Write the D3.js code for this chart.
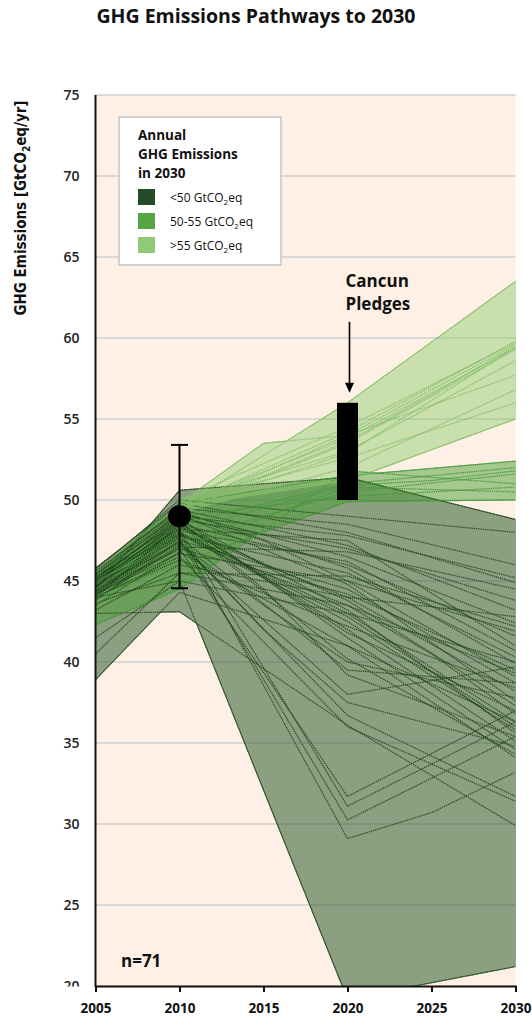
<!DOCTYPE html>
<html>
<head>
<meta charset="utf-8">
<script src="https://cdn.jsdelivr.net/npm/d3@7/dist/d3.min.js"></script>
<style>
  html, body { margin: 0; padding: 0; background: #ffffff; }
  svg { display: block; font-family: "Open Sans", "Noto Sans", sans-serif; }
</style>
</head>
<body>
<svg id="chart" width="532" height="1019"></svg>
<script>
// Reporting years of the scenario pathways (null = not reported by that model)
const years = [2005, 2010, 2015, 2020, 2025, 2030];

// Pathways whose 2030 emissions are below 50 GtCO2eq
const darkPaths = [
  [44.5, 50.6, null, 51.4, null, 48.8],
  [38.9, 44.3, null, 41.0, null, 36.3],
  [44.0, 45.0, null, 19.2, null, 21.2],
  [43.0, 43.1, null, 36.1, null, 29.9],
  [45.0, 48.0, null, 29.1, 30.7, 33.2],
  [44.8, 47.6, null, 30.25, null, 35.4],
  [45.3, 48.2, null, 31.1, null, 36.3],
  [44.2, 47.0, null, 31.7, null, 37.0],
  [45.5, 49.5, null, 48.5, null, 46.0],
  [45.0, 49.0, null, 47.8, null, 45.2],
  [44.6, 48.8, null, 47.0, null, 43.8],
  [45.2, 49.2, null, 46.5, null, 42.4],
  [44.0, 48.5, null, 46.0, null, 41.6],
  [45.8, 49.8, null, 48.0, null, 44.9],
  [44.3, 47.8, null, 45.5, null, 40.3],
  [43.8, 47.5, null, 44.5, null, 38.7],
  [45.0, 48.4, null, 43.8, null, 37.3],
  [44.7, 48.0, null, 43.0, null, 36.3],
  [44.4, 47.9, null, 42.5, null, 35.8],
  [44.9, 48.6, null, 42.0, null, 35.1],
  [45.1, 48.9, null, 41.5, null, 34.6],
  [43.5, 46.8, null, 41.0, null, 34.1],
  [44.1, 47.2, null, 38.0, null, 39.7],
  [44.6, 47.4, null, 36.7, null, 31.7],
  [44.0, 46.5, null, 36.0, null, 31.4],
  [45.4, 49.0, 47.5, 45.0, 42.0, 39.1],
  [44.8, 48.3, 46.0, 44.0, null, 38.2],
  [45.6, 49.4, null, 47.2, null, 43.2],
  [43.2, 46.0, null, 44.0, null, 42.8],
  [44.2, 46.7, null, 45.0, null, 41.9],
  [45.0, 48.1, null, 46.2, null, 40.7],
  [43.6, 45.5, null, 43.5, null, 39.3],
  [44.5, 47.3, 43.5, 40.0, null, 37.8],
  [45.2, 48.7, 44.5, 39.2, null, 35.4],
  [44.9, 48.5, null, 40.2, null, 34.3],
  [44.3, 47.7, null, 39.5, null, 38.7],
  [40.5, 45.5, null, 45.3, null, 42.2],
  [45.7, 50.0, null, 49.0, null, 48.0],
  [44.0, 46.3, null, 42.2, null, 38.4],
  [45.3, 49.1, null, 44.8, null, 37.6],
  [44.7, 48.0, 45.5, 43.5, 40.5, 36.8],
  [43.9, 47.1, null, 46.8, null, 44.5],
  [45.1, 48.8, null, 43.2, null, 35.6],
  [44.6, 47.9, null, 42.8, null, 36.0],
  [45.4, 49.3, null, 45.8, null, 39.9],
  [44.2, 47.5, 42.0, 37.5, null, 34.8],
  [45.0, 48.2, null, 47.5, null, 41.0],
  [44.8, 48.6, null, 41.8, null, 37.0],
  [41.5, 45.0, null, 43.0, null, 40.0],
  [44.4, 47.0, null, 44.2, null, 39.5]
];

// Pathways with 50-55 GtCO2eq in 2030
const midPaths = [
  [45.5, 49.8, null, 51.5, null, 52.4],
  [44.8, 48.5, null, 51.0, null, 52.0],
  [42.3, 44.5, null, 51.8, null, 51.0],
  [44.0, 46.1, null, 49.9, null, 50.0],
  [45.0, 47.5, null, 50.5, null, 51.6],
  [43.5, 47.0, null, 50.8, null, 50.5],
  [44.5, 48.0, 49.5, 50.9, 51.2, 51.8],
  [45.3, 49.0, null, 50.2, null, 50.8]
];

// Pathways above 55 GtCO2eq in 2030
const lightPaths = [
  [null, 49.8, 53.5, 54.0, null, 57.7],
  [null, 49.5, null, 56.0, null, 63.5],
  [null, 49.6, null, 54.2, null, 59.8],
  [null, 49.4, null, 54.0, null, 59.6],
  [null, 49.7, null, 53.8, null, 59.4],
  [null, 49.3, null, 53.5, null, 59.3],
  [null, 49.9, null, 53.0, null, 58.6],
  [null, 49.5, 51.5, 53.6, 56.5, 59.5],
  [null, 49.2, null, 52.0, null, 56.8],
  [null, 49.6, null, 51.2, null, 55.0],
  [null, 49.8, null, 52.6, null, 56.0],
  [null, 49.4, null, 52.9, null, 59.4],
  [null, 50.0, null, 54.5, null, 59.7]
];

// 2010 emissions estimate with its uncertainty range
const estimate2010 = [2010, 49.0, 44.55, 53.4];   // year, central, low, high
// Cancun pledges range for 2020
const pledges2020 = [2020, 50.0, 56.0];           // year, low, high

const xTicks = [2005, 2010, 2015, 2020, 2025, 2030];
const yTicks = [20, 25, 30, 35, 40, 45, 50, 55, 60, 65, 70, 75];
const legendLabels = ["<50 GtCO", "50-55 GtCO", ">55 GtCO"];
const pathwayCount = 71;

const groups = [
  { paths: darkPaths,  fill: "#2f5d2f", fillOpacity: 0.55, edge: "#30592b", line: "#1f461c", lineOpacity: 0.9,  swatch: "#234b29" },
  { paths: midPaths,   fill: "#4ba037", fillOpacity: 0.5,  edge: "#52a241", line: "#46963a", lineOpacity: 0.95, swatch: "#55a546" },
  { paths: lightPaths, fill: "#96cd78", fillOpacity: 0.5,  edge: "#88c26e", line: "#80bb64", lineOpacity: 0.9,  swatch: "#8fc97a" }
];

const svg = d3.select("#chart");
const x = d3.scaleLinear().domain([2005, 2030]).range([95.5, 515.5]);
const y = d3.scaleLinear().domain([20, 75]).range([986, 95]);

const defs = svg.append("defs");
defs.append("clipPath").attr("id", "plotClip")
  .append("rect")
  .attr("x", x(2005)).attr("y", y(75))
  .attr("width", x(2030) - x(2005)).attr("height", y(20) - y(75));
// tick labels are cut at the x axis line
defs.append("clipPath").attr("id", "labelClip")
  .append("rect").attr("x", -95).attr("y", 0).attr("width", 95).attr("height", y(20) + 0.5);

// Title
svg.append("text")
  .attr("x", 256).attr("y", 23)
  .attr("text-anchor", "middle")
  .attr("font-weight", 700).attr("font-size", 19.5)
  .attr("fill", "#111")
  .text("GHG Emissions Pathways to 2030");

// Plot background
svg.append("rect")
  .attr("x", x(2005)).attr("y", y(75))
  .attr("width", x(2030) - x(2005)).attr("height", y(20) - y(75))
  .attr("fill", "#fef0e4");

// Horizontal gridlines
svg.append("g").selectAll("line")
  .data(yTicks.filter(v => v > 20))
  .join("line")
  .attr("x1", x(2005)).attr("x2", x(2030))
  .attr("y1", d => y(d)).attr("y2", d => y(d))
  .attr("stroke", "#cfcfcf").attr("stroke-width", 1.5);

// Convert a pathway row into [year, value] points that the model reports
const toPoints = row => years.map((yr, i) => [yr, row[i]]).filter(d => d[1] != null);

function valueAt(pts, t) {
  if (t < pts[0][0] || t > pts[pts.length - 1][0]) return null;
  for (let i = 1; i < pts.length; i++) {
    if (t <= pts[i][0]) {
      const [x0, y0] = pts[i - 1], [x1, y1] = pts[i];
      return y0 + (y1 - y0) * (t - x0) / (x1 - x0);
    }
  }
  return pts[pts.length - 1][1];
}

// Min/max envelope over all pathways of a group
function envelope(paths) {
  const series = paths.map(toPoints);
  const start = d3.min(series, s => s[0][0]);
  const end = d3.max(series, s => s[s.length - 1][0]);
  const ts = Array.from(new Set(d3.range(start, end + 1e-9, 0.05).map(t => +t.toFixed(3)).concat(years.filter(v => v >= start && v <= end)))).sort((a, b) => a - b);
  return ts.map(t => {
    const vals = series.map(s => valueAt(s, t)).filter(v => v != null);
    return { t, lo: d3.min(vals), hi: d3.max(vals) };
  });
}

const plot = svg.append("g").attr("clip-path", "url(#plotClip)");
const area = d3.area().x(d => x(d.t)).y0(d => y(d.lo)).y1(d => y(d.hi));
const line = d3.line().x(d => x(d[0])).y(d => y(d[1]));

// Envelopes first, then the individual pathways on top
groups.forEach(g => {
  plot.append("path")
    .datum(envelope(g.paths))
    .attr("d", area)
    .attr("fill", g.fill).attr("fill-opacity", g.fillOpacity)
    .attr("stroke", g.edge).attr("stroke-width", 1).attr("stroke-opacity", 0.9);
});
groups.forEach(g => {
  plot.append("g").selectAll("path")
    .data(g.paths.map(toPoints))
    .join("path")
    .attr("d", line)
    .attr("fill", "none")
    .attr("stroke", g.line).attr("stroke-width", 1.2)
    .attr("stroke-dasharray", "1.4,0.8")
    .attr("stroke-opacity", g.lineOpacity);
});

// 2010 estimate: marker with uncertainty bar
const [eYear, eVal, eLow, eHigh] = estimate2010;
const eb = svg.append("g").attr("stroke", "#000").attr("stroke-width", 2);
eb.append("line").attr("x1", x(eYear)).attr("x2", x(eYear)).attr("y1", y(eHigh)).attr("y2", y(eLow));
eb.append("line").attr("x1", x(eYear) - 8.5).attr("x2", x(eYear) + 8.5).attr("y1", y(eHigh)).attr("y2", y(eHigh));
eb.append("line").attr("x1", x(eYear) - 8.5).attr("x2", x(eYear) + 8.5).attr("y1", y(eLow)).attr("y2", y(eLow));
svg.append("ellipse")
  .attr("cx", x(eYear)).attr("cy", y(eVal))
  .attr("rx", 11.5).attr("ry", 11)
  .attr("fill", "#000");

// Cancun pledges bar and annotation
const [pYear, pLow, pHigh] = pledges2020;
svg.append("rect")
  .attr("x", x(pYear) - 10.5).attr("y", y(pHigh))
  .attr("width", 21).attr("height", y(pLow) - y(pHigh))
  .attr("fill", "#000");
const ax = x(pYear) + 2;
svg.append("line")
  .attr("x1", ax).attr("x2", ax)
  .attr("y1", y(pHigh) - 81).attr("y2", y(pHigh) - 16)
  .attr("stroke", "#000").attr("stroke-width", 1.6);
svg.append("path")
  .attr("d", `M${ax - 4.5},${y(pHigh) - 20} L${ax + 4.5},${y(pHigh) - 20} L${ax},${y(pHigh) - 10} Z`)
  .attr("fill", "#000");
const cancun = svg.append("text")
  .attr("font-weight", 700).attr("font-size", 17).attr("fill", "#111");
cancun.append("tspan").attr("x", ax - 4).attr("y", 287).text("Cancun");
cancun.append("tspan").attr("x", ax - 4).attr("y", 310).text("Pledges");

// Sample size
svg.append("text")
  .attr("x", 121).attr("y", 967)
  .attr("font-weight", 700).attr("font-size", 17).attr("fill", "#111")
  .text(`n=${pathwayCount}`);

// Axes
svg.append("line")
  .attr("x1", x(2005)).attr("x2", x(2005))
  .attr("y1", y(75)).attr("y2", y(20) + 1)
  .attr("stroke", "#111").attr("stroke-width", 2);

const xAxis = svg.append("g")
  .attr("transform", `translate(0,${y(20)})`)
  .call(d3.axisBottom(x).tickValues(xTicks).tickFormat(d3.format("d")).tickSize(6).tickPadding(11));
xAxis.select(".domain").attr("stroke", "#111").attr("stroke-width", 2);
xAxis.selectAll(".tick line").attr("stroke", "#111").attr("stroke-width", 2);
xAxis.selectAll(".tick text")
  .attr("font-family", "Open Sans, sans-serif")
  .attr("font-size", 13.5).attr("font-weight", 700).attr("fill", "#111");

const yAxis = svg.append("g")
  .attr("clip-path", "url(#labelClip)")
  .attr("transform", `translate(${x(2005)},0)`)
  .call(d3.axisLeft(y).tickValues(yTicks).tickSize(0).tickPadding(16));
yAxis.select(".domain").remove();
yAxis.selectAll(".tick text")
  .attr("font-family", "Open Sans, sans-serif")
  .attr("font-size", 14).attr("font-weight", 600).attr("fill", "#222");

// Y axis title with subscript
const yTitle = svg.append("text")
  .attr("transform", `translate(26,208) rotate(-90)`)
  .attr("text-anchor", "middle")
  .attr("font-family", "'Liberation Sans Narrow', 'DejaVu Sans Condensed', 'Open Sans', sans-serif")
  .attr("font-weight", 700).attr("font-size", 15).attr("fill", "#111");
yTitle.append("tspan").text("GHG Emissions [GtCO");
yTitle.append("tspan").attr("font-size", 10).attr("dy", 4).text("2");
yTitle.append("tspan").attr("dy", -4).text("eq/yr]");

// Legend
const lg = svg.append("g");
lg.append("rect")
  .attr("x", 119).attr("y", 117).attr("width", 162).attr("height", 148)
  .attr("fill", "#fff").attr("stroke", "#c4c4c4").attr("stroke-width", 1.5);
const lt = lg.append("text").attr("font-weight", 700).attr("font-size", 13.5).attr("fill", "#111");
["Annual", "GHG Emissions", "in 2030"].forEach((s, i) => {
  lt.append("tspan").attr("x", 138).attr("y", 140 + i * 19).text(s);
});
groups.forEach((g, i) => {
  const yy = 189 + i * 24;
  lg.append("rect").attr("x", 138).attr("y", yy).attr("width", 17).attr("height", 16).attr("fill", g.swatch);
  const t = lg.append("text").attr("x", 170).attr("y", yy + 13)
    .attr("font-size", 12).attr("fill", "#111");
  t.append("tspan").text(legendLabels[i]);
  t.append("tspan").attr("font-size", 8).attr("dy", 3).text("2");
  t.append("tspan").attr("dy", -3).text("eq");
});
</script>
</body>
</html>
